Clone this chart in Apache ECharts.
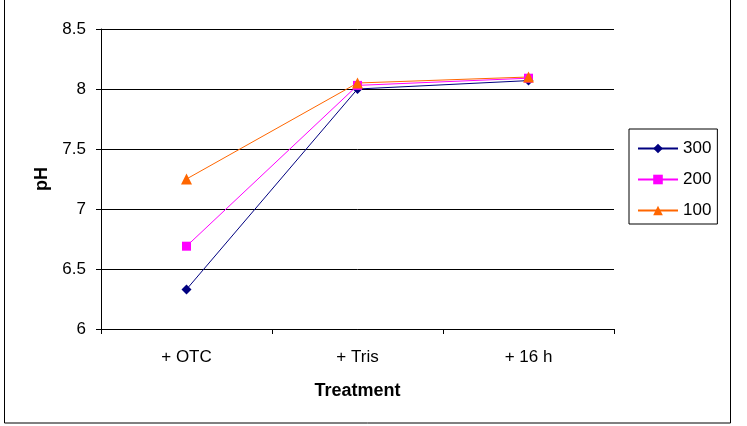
<!DOCTYPE html>
<html>
<head>
<meta charset="utf-8">
<script src="https://cdn.jsdelivr.net/npm/echarts@6/dist/echarts.min.js"></script>
<style>
  html, body { margin: 0; padding: 0; background: #fff; }
  #chart { width: 747px; height: 426px; }
</style>
</head>
<body>
<div id="chart"></div>
<script>
// data
var categories = ['+ OTC', '+ Tris', '+ 16 h'];
var ph300 = [6.33, 8.0, 8.07];
var ph200 = [6.69, 8.03, 8.09];
var ph100 = [7.25, 8.05, 8.1];

var chart = echarts.init(document.getElementById('chart'));
var font = 'Liberation Sans, Arial, sans-serif';

var option = {
    animation: false,
    backgroundColor: '#fff',
    graphic: [{
        type: 'rect',
        shape: { x: 4.5, y: -2, width: 726, height: 425 },
        style: { fill: 'none', stroke: '#000', lineWidth: 1 }
    }],
    grid: { left: 101, top: 29, width: 513, height: 300 },
    legend: {
        orient: 'vertical',
        left: 629,
        top: 129,
        data: ['300', '200', '100'],
        borderColor: '#000',
        borderWidth: 1,
        padding: [11, 6, 5, 8],
        itemGap: 14,
        itemWidth: 40,
        itemHeight: 12,
        textStyle: { color: '#000', fontSize: 17, fontFamily: font }
    },
    xAxis: {
        type: 'category',
        data: categories,
        boundaryGap: true,
        name: 'Treatment',
        nameLocation: 'middle',
        nameGap: 53,
        nameTextStyle: { color: '#000', fontSize: 18, fontWeight: 'bold', fontFamily: font },
        axisLine: { lineStyle: { color: '#000' } },
        axisTick: { show: true, length: 5, lineStyle: { color: '#000' } },
        axisLabel: { color: '#000', fontSize: 17, fontFamily: font, margin: 20 }
    },
    yAxis: {
        type: 'value',
        min: 6,
        max: 8.5,
        interval: 0.5,
        name: 'pH',
        nameLocation: 'middle',
        nameGap: 50,
        nameTextStyle: { color: '#000', fontSize: 18, fontWeight: 'bold', fontFamily: font },
        axisLine: { show: true, lineStyle: { color: '#000' } },
        axisTick: { show: true, length: 5, lineStyle: { color: '#000' } },
        splitLine: { lineStyle: { color: '#000' } },
        axisLabel: { color: '#000', fontSize: 17, fontFamily: font, margin: 15 }
    },
    series: [
        {
            name: '300', type: 'line', data: ph300,
            symbol: 'diamond', symbolSize: 10,
            lineStyle: { color: '#000080', width: 1 },
            itemStyle: { color: '#000080' }
        },
        {
            name: '200', type: 'line', data: ph200,
            symbol: 'rect', symbolSize: 9,
            lineStyle: { color: '#ff00ff', width: 1 },
            itemStyle: { color: '#ff00ff' }
        },
        {
            name: '100', type: 'line', data: ph100,
            symbol: 'triangle', symbolSize: 11,
            lineStyle: { color: '#ff6600', width: 1 },
            itemStyle: { color: '#ff6600' }
        }
    ]
};

chart.setOption(option);

window.onresize = function () {
    chart.resize();
};
</script>
</body>
</html>
